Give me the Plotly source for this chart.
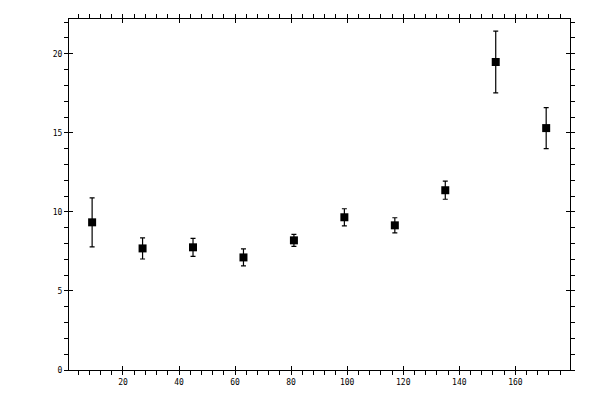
import plotly.graph_objects as go

# data
x_vals = [9, 27, 45, 63, 81, 99, 117, 135, 153, 171]
y_vals = [9.34, 7.69, 7.76, 7.12, 8.20, 9.66, 9.15, 11.37, 19.48, 15.30]
y_errs = [1.55, 0.67, 0.57, 0.54, 0.38, 0.54, 0.48, 0.57, 1.95, 1.30]

x_ticks = [20, 40, 60, 80, 100, 120, 140, 160]
y_ticks = [0, 5, 10, 15, 20]

X_RANGE = [0.75, 179.5]
Y_RANGE = [0, 22.2]

fig = go.Figure()

fig.add_trace(
    go.Scatter(
        x=x_vals,
        y=y_vals,
        mode="markers",
        marker=dict(symbol="square", size=8, color="black", line=dict(width=0)),
        error_y=dict(type="data", array=y_errs, visible=True, color="black", thickness=1.2, width=2.5),
        showlegend=False,
        hoverinfo="skip",
    )
)

# empty trace so the overlay axes (inner half of the major ticks) get drawn
fig.add_trace(go.Scatter(x=[], y=[], xaxis="x2", yaxis="y2", showlegend=False, hoverinfo="skip"))

tick_font = dict(family="DejaVu Sans Mono", size=8, color="black")

axis_common = dict(
    showline=True,
    linecolor="black",
    linewidth=1,
    showgrid=False,
    zeroline=False,
    mirror="allticks",
    tickcolor="black",
    tickwidth=1,
    ticklen=4,
    automargin=False,
)

# page body adds 8px, so the figure is a bit smaller than the window
fig.update_layout(
    width=592,
    height=392,
    margin=dict(l=61, r=30, t=11, b=30),
    paper_bgcolor="white",
    plot_bgcolor="white",
    xaxis=dict(
        **axis_common,
        range=X_RANGE,
        tickmode="array",
        tickvals=x_ticks,
        ticks="outside",
        tickfont=tick_font,
        minor=dict(dtick=4, tick0=0, ticks="outside", ticklen=4, tickcolor="black", tickwidth=1),
    ),
    yaxis=dict(
        **axis_common,
        range=Y_RANGE,
        tickmode="array",
        tickvals=y_ticks,
        ticks="outside",
        tickfont=tick_font,
        minor=dict(dtick=1, tick0=0, ticks="outside", ticklen=4, tickcolor="black", tickwidth=1),
    ),
    xaxis2=dict(
        **axis_common,
        overlaying="x",
        range=X_RANGE,
        tickmode="array",
        tickvals=x_ticks,
        ticks="inside",
        showticklabels=False,
    ),
    yaxis2=dict(
        **axis_common,
        overlaying="y",
        range=Y_RANGE,
        tickmode="array",
        tickvals=y_ticks,
        ticks="inside",
        showticklabels=False,
    ),
)

fig.write_html("out.html")
